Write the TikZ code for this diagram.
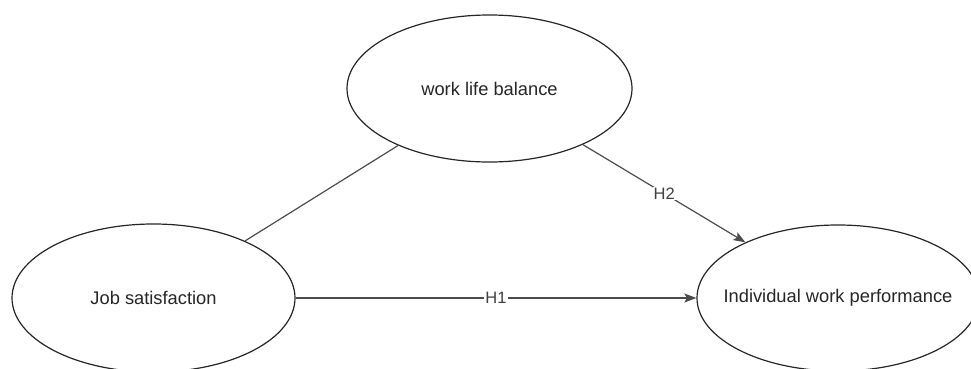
\documentclass[tikz,border=0pt]{standalone}
\usepackage{fontspec}
\setmainfont{Liberation Sans}
\usetikzlibrary{shapes.geometric,arrows.meta}
\begin{document}
\begin{tikzpicture}[x=1pt,y=-1pt,
  latent/.style={ellipse, draw=black!85, line width=1.2pt, fill=white, inner sep=0pt,
    font=\fontsize{18.3}{22}\selectfont, text=black!85},
  conn/.style={draw=black!70, line width=1.2pt},
  arr/.style={conn, -{Stealth[length=12pt,width=9pt,inset=2.5pt]}},
  lab/.style={fill=white, inner sep=1pt, font=\fontsize{16.5}{19}\selectfont, text=black!75}]
\useasboundingbox (0,0) rectangle (971,369);
\clip (0,0) rectangle (971,369);
\node[latent, minimum width=285pt, minimum height=147pt] (wlb) at (489.5,88.5) {\makebox[0pt]{work life balance}};
\node[latent, minimum width=283pt, minimum height=148pt] (js) at (153.5,298) {\makebox[0pt]{Job satisfaction}};
\node[latent, minimum width=282pt, minimum height=146pt] (iwp) at (838,298) {\makebox[0pt]{Individual work performance}};
\draw[conn] (wlb) -- (js);
\draw[arr] (wlb) -- node[lab] (h2) {H2} (iwp);
\draw[arr] (js) -- node[lab] (h1) {H1} (iwp);
\end{tikzpicture}
\end{document}
